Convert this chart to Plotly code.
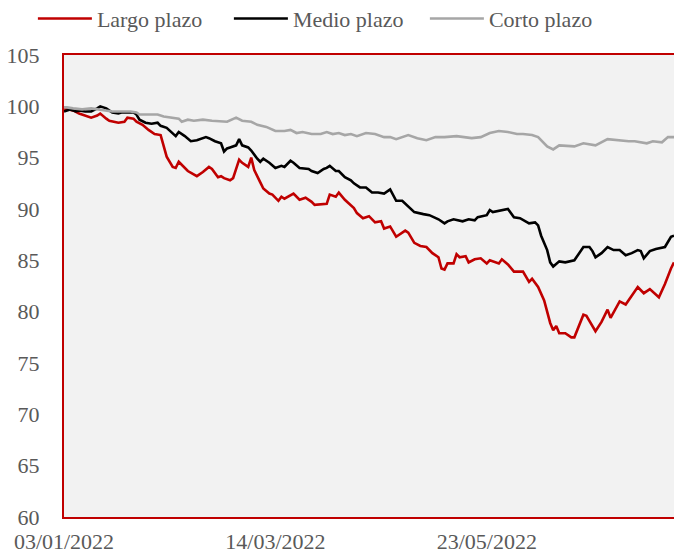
import plotly.graph_objects as go

YEAR = "2022-"

largo_dates = ["01-03","01-06","01-08","01-10","01-12","01-14","01-15","01-17","01-18","01-21",
    "01-23","01-24","01-26","01-27","01-29","01-31","02-02","02-04","02-05","02-06",
    "02-08","02-09","02-10","02-12","02-13","02-16","02-18","02-20","02-21","02-23",
    "02-24","02-25","02-27","02-28","03-02","03-03","03-05","03-06","03-07","03-09",
    "03-10","03-12","03-13","03-15","03-16","03-17","03-20","03-22","03-24","03-26",
    "03-27","03-31","04-01","04-03","04-04","04-06","04-08","04-09","04-10","04-12",
    "04-14","04-16","04-18","04-19","04-21","04-23","04-26","04-27","04-29","05-01",
    "05-03","05-05","05-07","05-08","05-09","05-10","05-12","05-13","05-14","05-16",
    "05-17","05-19","05-21","05-23","05-24","05-27","05-28","05-30","06-01","06-04",
    "06-06","06-07","06-09","06-10","06-11","06-13","06-14","06-15","06-16","06-18",
    "06-20","06-21","06-24","06-25","06-28","06-30","07-02","07-03","07-05","07-06",
    "07-08","07-09","07-12","07-14","07-16","07-19","07-21","07-23","07-24"]
largo_vals = [99.8,99.6,99.3,99.1,98.9,99.1,99.3,98.8,98.6,98.4,
    98.5,98.9,98.8,98.5,98.2,97.7,97.3,97.2,96.2,95.1,
    94.1,94.0,94.6,94.0,93.7,93.2,93.6,94.1,93.9,93.1,
    93.2,93.0,92.8,93.0,94.8,94.5,94.1,95.0,93.8,92.6,
    92.0,91.5,91.4,90.8,91.2,91.0,91.5,90.9,91.1,90.7,
    90.4,90.5,91.4,91.2,91.6,90.9,90.4,90.1,89.6,89.1,
    89.3,88.7,88.8,88.1,88.3,87.3,87.9,87.7,86.7,86.4,
    86.3,85.7,85.3,84.2,84.1,84.7,84.7,85.6,85.3,85.4,
    84.8,85.1,85.2,84.7,85.0,84.7,85.1,84.6,83.9,83.9,
    82.9,83.2,82.4,81.7,81.1,78.9,78.2,78.6,77.9,77.9,
    77.5,77.5,79.7,79.6,78.1,79.0,80.2,79.4,80.5,81.0,
    80.7,81.1,82.4,81.8,82.2,81.4,82.7,84.2,84.8]

medio_dates = ["01-03","01-05","01-07","01-08","01-10","01-12","01-14","01-15","01-17","01-19",
    "01-21","01-22","01-24","01-26","01-27","01-28","01-30","02-01","02-03","02-04",
    "02-06","02-08","02-09","02-10","02-12","02-14","02-16","02-19","02-20","02-22",
    "02-24","02-25","02-26","02-27","03-01","03-02","03-03","03-05","03-06","03-08",
    "03-09","03-10","03-12","03-14","03-16","03-17","03-19","03-20","03-22","03-25",
    "03-26","03-28","03-30","03-31","04-01","04-03","04-04","04-06","04-08","04-09",
    "04-11","04-13","04-15","04-17","04-19","04-21","04-22","04-23","04-25","04-27",
    "04-29","05-02","05-04","05-07","05-09","05-10","05-12","05-15","05-17","05-19",
    "05-20","05-23","05-24","05-25","05-27","05-30","06-01","06-03","06-06","06-08",
    "06-09","06-10","06-12","06-13","06-14","06-16","06-18","06-21","06-24","06-26",
    "06-27","06-28","06-30","07-02","07-04","07-06","07-08","07-10","07-12","07-13",
    "07-14","07-16","07-18","07-21","07-23","07-24"]
medio_vals = [99.5,99.7,99.5,99.6,99.5,99.5,99.8,100.0,99.8,99.4,
    99.3,99.4,99.4,99.4,99.2,98.7,98.4,98.3,98.4,98.1,
    97.9,97.4,97.1,97.5,97.1,96.6,96.7,97.0,96.9,96.6,
    96.4,95.6,95.9,96.0,96.2,96.8,96.2,96.0,95.7,94.9,
    94.6,94.9,94.5,94.0,94.2,94.1,94.7,94.5,94.0,93.9,
    93.7,93.5,93.9,94.0,94.2,93.7,93.7,93.1,92.8,92.5,
    92.1,92.1,91.6,91.6,91.5,91.9,91.4,90.8,90.8,90.2,
    89.7,89.5,89.4,89.0,88.6,88.8,89.0,88.8,89.0,88.9,
    89.2,89.4,89.9,89.7,89.8,90.0,89.2,89.1,88.6,88.7,
    88.4,87.4,86.0,84.8,84.4,84.9,84.8,85.0,86.3,86.3,
    85.9,85.3,85.7,86.3,86.0,86.0,85.5,85.7,86.0,85.9,
    85.2,85.9,86.1,86.3,87.3,87.4]

corto_dates = ["01-03","01-04","01-06","01-09","01-12","01-14","01-17","01-19","01-22","01-25",
    "01-27","01-28","01-31","02-03","02-05","02-08","02-10","02-11","02-13","02-15",
    "02-18","02-21","02-24","02-26","03-01","03-03","03-06","03-08","03-11","03-14",
    "03-17","03-19","03-21","03-23","03-26","03-29","03-31","04-02","04-04","04-06",
    "04-08","04-10","04-13","04-16","04-19","04-21","04-23","04-27","04-30","05-03",
    "05-06","05-09","05-13","05-15","05-18","05-21","05-24","05-27","05-30","06-02",
    "06-04","06-07","06-09","06-12","06-14","06-16","06-21","06-24","06-28","07-02",
    "07-05","07-09","07-11","07-15","07-17","07-20","07-22","07-24"]
corto_vals = [99.9,99.9,99.8,99.7,99.8,99.7,99.6,99.5,99.5,99.5,
    99.4,99.2,99.2,99.2,99.0,98.9,98.8,98.5,98.7,98.6,
    98.7,98.6,98.5,98.5,98.9,98.6,98.5,98.2,98.0,97.6,
    97.6,97.7,97.4,97.5,97.3,97.3,97.5,97.3,97.4,97.2,
    97.3,97.1,97.4,97.3,97.0,97.0,96.8,97.2,96.9,96.7,
    97.0,97.0,97.1,97.0,96.9,97.0,97.4,97.6,97.5,97.3,
    97.3,97.2,97.0,96.1,95.8,96.2,96.1,96.4,96.2,96.8,
    96.7,96.6,96.6,96.4,96.6,96.5,97.0,97.0]

series_names = ["Largo plazo", "Medio plazo", "Corto plazo"]
series_colors = ["#c00000", "#000000", "#a6a6a6"]

tick_dates = ["2022-01-03", "2022-03-14", "2022-05-23"]
tick_labels = ["03/01/2022", "14/03/2022", "23/05/2022"]
y_ticks = [60, 65, 70, 75, 80, 85, 90, 95, 100, 105]

FONT = "Liberation Serif"
TXT = "#595959"
FS = 22

fig = go.Figure()
for name, color, dates, vals in zip(series_names, series_colors,
                                    [largo_dates, medio_dates, corto_dates],
                                    [largo_vals, medio_vals, corto_vals]):
    fig.add_trace(go.Scatter(
        x=[YEAR + d for d in dates], y=vals, name=name, mode="lines",
        line=dict(color=color, width=2.6), hoverinfo="x+y+name"))

fig.update_layout(
    width=674, height=558,
    margin=dict(l=64, r=0, t=55, b=41, autoexpand=False),
    paper_bgcolor="white", plot_bgcolor="#f2f2f2",
    font=dict(family=FONT, size=FS, color=TXT),
    showlegend=True,
    legend=dict(orientation="h", x=-0.051, xanchor="left", y=1.124, yanchor="top",
                font=dict(family=FONT, size=FS, color=TXT),
                itemwidth=54,
                entrywidth=127, entrywidthmode="pixels",
                bgcolor="rgba(0,0,0,0)", traceorder="normal"),
    xaxis=dict(type="date", range=["2022-01-03", "2022-07-24"],
               tickvals=tick_dates, ticktext=tick_labels,
               showgrid=False, zeroline=False,
               showline=True, linecolor="#c00000", linewidth=2, mirror=True,
               ticks="", ticklabelstandoff=4,
               tickfont=dict(family=FONT, size=FS, color=TXT)),
    yaxis=dict(range=[60, 105], tickvals=y_ticks,
               showgrid=False, zeroline=False,
               showline=True, linecolor="#c00000", linewidth=2, mirror=False,
               ticks="", ticklabelstandoff=18,
               tickfont=dict(family=FONT, size=FS, color=TXT)),
)

fig.write_html("out.html", config={"displayModeBar": False},
               post_script="document.body.style.margin='0';document.body.style.overflow='hidden';")
